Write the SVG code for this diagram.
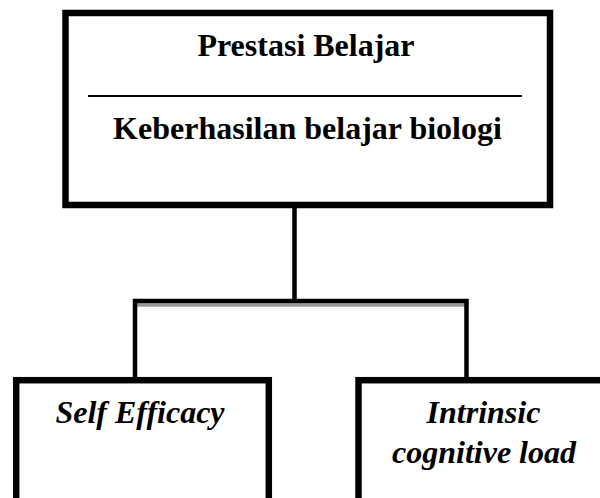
<svg xmlns="http://www.w3.org/2000/svg" width="600" height="498" viewBox="0 0 600 498">
<style>
.box{fill:#fff;stroke:#000;stroke-width:6.5}
.t{font-family:"Liberation Serif","Times New Roman",serif;font-weight:bold;font-size:32px;fill:#000;text-anchor:middle}
.it{font-style:italic}
.c{stroke:#000;stroke-width:4.5;fill:none}
</style>
<rect width="600" height="498" fill="#fff"/>
<g id="connectors">
<line class="c" x1="294.5" y1="208" x2="294.5" y2="302"/>
<line x1="137" y1="305" x2="465" y2="305" stroke="#999" stroke-width="3.5"/>
<polyline class="c" points="135,378 135,301 466.5,301 466.5,378"/>
</g>
<g id="top">
<rect class="box" x="65.5" y="13" width="484.5" height="192"/>
<text class="t" x="306" y="56">Prestasi Belajar</text>
<line x1="88" y1="96" x2="522" y2="96" stroke="#000" stroke-width="2.2"/>
<text class="t" x="307.5" y="139">Keberhasilan belajar biologi</text>
</g>
<g id="self-efficacy">
<rect class="box" x="16.2" y="380.2" width="252.6" height="140"/>
<text class="t it" x="140" y="423">Self Efficacy</text>
</g>
<g id="intrinsic">
<rect class="box" x="358.5" y="380.2" width="270" height="140"/>
<text class="t it" x="483.5" y="423">Intrinsic</text>
<text class="t it" x="484" y="463">cognitive load</text>
</g>
</svg>
